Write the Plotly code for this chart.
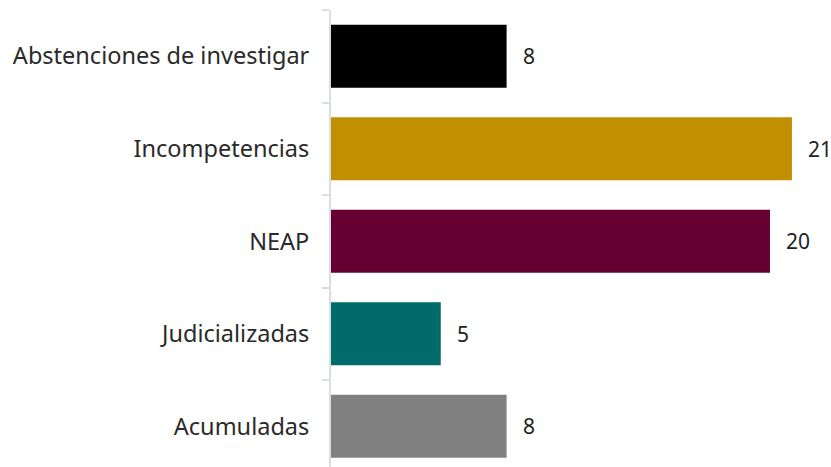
import plotly.graph_objects as go

categories = ["Abstenciones de investigar", "Incompetencias", "NEAP", "Judicializadas", "Acumuladas"]
values = [8, 21, 20, 5, 8]
colors = ["#000000", "#C09000", "#660033", "#006B68", "#808080"]

FONT = "Noto Sans"

fig = go.Figure()
fig.add_trace(go.Bar(
    x=values, y=categories, orientation="h",
    marker=dict(color=colors, line=dict(width=0)),
    hoverinfo="skip", showlegend=False,
))

for c, v in zip(categories, values):
    fig.add_annotation(x=v, y=c, text=str(v), xanchor="left", yanchor="middle",
                       xshift=14, showarrow=False,
                       font=dict(family=FONT, size=21, color="#222222"))

fig.update_layout(
    width=831, height=467,
    margin=dict(l=331, r=0, t=10, b=0),
    paper_bgcolor="white", plot_bgcolor="white",
    bargap=0.32,
    font=dict(family=FONT, size=23.5, color="#2a2a2a"),
    xaxis=dict(visible=False, range=[0, 22.78], fixedrange=True),
    yaxis=dict(
        categoryorder="array", categoryarray=categories,
        range=[4.44, -0.5], autorange=False, automargin=False, fixedrange=True,
        showline=True, linecolor="#D9DDE6", linewidth=2,
        ticks="outside", tickson="boundaries", ticklen=7, tickcolor="#D9DDE6", tickwidth=2,
        ticklabelstandoff=15,
        showgrid=False, zeroline=False,
        tickfont=dict(family=FONT, size=23.5, color="#2a2a2a"),
    ),
)

fig.write_html(
    "out.html",
    config={"displayModeBar": False},
    post_script="document.body.style.margin='0';document.body.style.overflow='hidden';",
)
